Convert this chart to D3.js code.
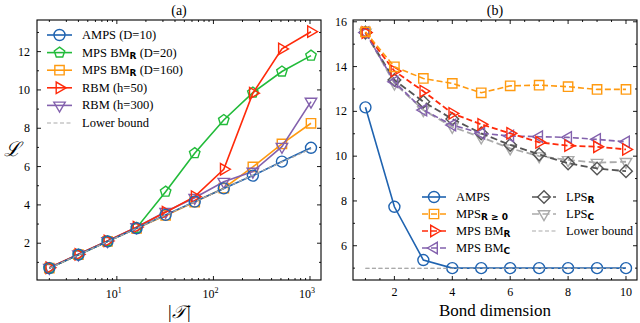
<!DOCTYPE html>
<html>
<head>
<meta charset="utf-8">
<script src="https://cdn.jsdelivr.net/npm/d3@7"></script>
<style>
  body { margin: 0; background: #fff; }
  text { font-family: "Liberation Serif", "DejaVu Serif", serif; }
</style>
</head>
<body>
<div id="chart"></div>
<script>
// ---- data, panel (a) ----
var sizesA = [2, 4, 8, 16, 32, 64, 128, 256, 512, 1024];
var ampsA   = [0.70, 1.40, 2.09, 2.78, 3.48, 4.17, 4.86, 5.53, 6.26, 6.98];
var bmr20A  = [0.70, 1.40, 2.10, 2.80, 4.69, 6.70, 8.43, 9.86, 10.96, 11.79];
var bmr160A = [0.70, 1.40, 2.09, 2.78, 3.45, 4.15, 4.87, 5.98, 7.18, 8.26];
var rbm50A  = [0.72, 1.42, 2.12, 2.84, 3.62, 4.43, 5.86, 9.83, 12.14, 13.04];
var rbm300A = [0.72, 1.42, 2.12, 2.84, 3.64, 4.37, 5.21, 5.74, 7.04, 9.39];
var lowerA  = [0.69, 1.39, 2.08, 2.77, 3.47, 4.16, 4.85, 5.55, 6.24, 6.93];
var xTicksA = [10, 100, 1000];
var yTicksA = [2, 4, 6, 8, 10, 12];

// ---- data, panel (b) ----
var bondB  = [1, 2, 3, 4, 5, 6, 7, 8, 9, 10];
var ampsB  = [12.18, 7.74, 5.36, 5.0, 5.0, 5.0, 5.0, 5.0, 5.0, 5.0];
var mpsPosB = [15.55, 13.99, 13.47, 13.25, 12.83, 13.14, 13.17, 13.10, 12.98, 12.98];
var bmrB   = [15.52, 13.80, 12.90, 11.91, 11.42, 11.02, 10.62, 10.47, 10.42, 10.30];
var bmcB   = [15.52, 13.32, 12.06, 11.39, 11.02, 10.90, 10.87, 10.84, 10.75, 10.64];
var lpsrB  = [15.52, 13.40, 12.43, 11.66, 11.02, 10.50, 10.08, 9.68, 9.45, 9.33];
var lpscB  = [15.52, 13.25, 12.06, 11.31, 10.84, 10.35, 10.00, 9.83, 9.71, 9.75];
var lowerB = [4.99, 4.99, 4.99, 4.99, 4.99, 4.99, 4.99, 4.99, 4.99, 4.99];
var xTicksB = [2, 4, 6, 8, 10];
var yTicksB = [6, 8, 10, 12, 14, 16];

var blue = "#1f63b0", green = "#22bb3a", orange = "#ff9a10", red = "#ff2a0a",
    purple = "#8361ad", dgray = "#555555", lgray = "#aaaaaa";

var svg = d3.select("#chart").append("svg")
    .attr("width", 640).attr("height", 323);

// marker paths
function poly(r, angles) {
  return "M" + angles.map(function(a) {
    var t = a * Math.PI / 180;
    return [r * Math.cos(t), r * Math.sin(t)].join(",");
  }).join("L") + "Z";
}
function markerPath(type, r) {
  if (type === "square") return poly(r * 1.2, [45, 135, 225, 315]);
  if (type === "diamond") return poly(r * 1.15, [0, 90, 180, 270]);
  if (type === "pentagon") return poly(r, [-90, -18, 54, 126, 198]);
  if (type === "right") return poly(r * 1.2, [0, 120, 240]);
  if (type === "left") return poly(r * 1.2, [180, 300, 60]);
  if (type === "down") return poly(r * 1.2, [90, 210, 330]);
  return null;
}
function drawMarker(g, type, x, y, color, r) {
  if (type === "circle") {
    g.append("circle").attr("cx", x).attr("cy", y).attr("r", r)
      .attr("fill", "none").attr("stroke", color).attr("stroke-width", 1.4);
  } else {
    g.append("path").attr("d", markerPath(type, r))
      .attr("transform", "translate(" + x + "," + y + ")")
      .attr("fill", "none").attr("stroke", color).attr("stroke-width", 1.4);
  }
}

function drawSeries(g, xs, ys, x, y, s) {
  var line = d3.line().x(function(d, i) { return x(xs[i]); }).y(function(d) { return y(d); });
  g.append("path").datum(ys).attr("d", line)
    .attr("fill", "none").attr("stroke", s.color)
    .attr("stroke-width", s.width || 1.6)
    .attr("stroke-dasharray", s.dash || null);
  if (s.marker) {
    ys.forEach(function(v, i) { drawMarker(g, s.marker, x(xs[i]), y(v), s.color, s.r || 5.5); });
  }
}

// inward ticks on all four sides
function frame(g, x, y, w, h, xMajor, xMinor, yMajor, yMinor) {
  var tk = g.append("g").attr("stroke", "#000").attr("stroke-width", 0.9);
  xMajor.forEach(function(v) {
    tk.append("line").attr("x1", x(v)).attr("x2", x(v)).attr("y1", h).attr("y2", h - 4);
    tk.append("line").attr("x1", x(v)).attr("x2", x(v)).attr("y1", 0).attr("y2", 4);
  });
  xMinor.forEach(function(v) {
    tk.append("line").attr("x1", x(v)).attr("x2", x(v)).attr("y1", h).attr("y2", h - 2);
    tk.append("line").attr("x1", x(v)).attr("x2", x(v)).attr("y1", 0).attr("y2", 2);
  });
  yMajor.forEach(function(v) {
    tk.append("line").attr("y1", y(v)).attr("y2", y(v)).attr("x1", 0).attr("x2", 4);
    tk.append("line").attr("y1", y(v)).attr("y2", y(v)).attr("x1", w).attr("x2", w - 4);
  });
  yMinor.forEach(function(v) {
    tk.append("line").attr("y1", y(v)).attr("y2", y(v)).attr("x1", 0).attr("x2", 2);
    tk.append("line").attr("y1", y(v)).attr("y2", y(v)).attr("x1", w).attr("x2", w - 2);
  });
  g.append("rect").attr("width", w).attr("height", h)
    .attr("fill", "none").attr("stroke", "#000").attr("stroke-width", 1.1);
}

function legendLabel(t, main, sub, after) {
  t.append("tspan").text(main);
  if (sub) t.append("tspan").attr("baseline-shift", "-25%").attr("font-size", "9px")
    .attr("font-weight", "bold").attr("font-family", "DejaVu Sans, sans-serif").text(sub);
  if (after) t.append("tspan").text(after);
}

// ================= panel (a) =================
var aL = 37, aT = 20, aW = 284, aH = 260;
var xA = d3.scaleLog().domain([1.49, 1300]).range([0, aW]);
var yA = d3.scaleLinear().domain([0.08, 13.65]).range([aH, 0]);
var gA = svg.append("g").attr("transform", "translate(" + aL + "," + aT + ")");

var clipA = svg.append("defs").append("clipPath").attr("id", "clipA");
clipA.append("rect").attr("width", aW).attr("height", aH);
var dataA = gA.append("g").attr("clip-path", "url(#clipA)");

var seriesA = [
  { ys: lowerA, color: lgray, dash: "4,2.5", width: 1.2 },
  { ys: bmr160A, color: orange, marker: "square" },
  { ys: rbm300A, color: purple, marker: "down" },
  { ys: bmr20A, color: green, marker: "pentagon" },
  { ys: rbm50A, color: red, marker: "right" },
  { ys: ampsA, color: blue, marker: "circle" },
  { ys: lowerA, color: lgray, dash: "4,2.5", width: 1.2 }
];
seriesA.forEach(function(s) { drawSeries(dataA, sizesA, s.ys, xA, yA, s); });

var minorXA = [];
[1, 10, 100, 1000].forEach(function(d) {
  for (var k = 2; k <= 9; k++) { var v = d * k; if (v > 1.49 && v < 1300) minorXA.push(v); }
});
frame(gA, xA, yA, aW, aH, xTicksA, minorXA, yTicksA, [1, 3, 5, 7, 9, 11, 13]);

xTicksA.forEach(function(v) {
  var t = gA.append("text").attr("x", xA(v) - 3).attr("y", aH + 18)
    .attr("text-anchor", "middle").attr("font-size", "12px");
  t.append("tspan").text("10");
  t.append("tspan").attr("dy", -5).attr("font-size", "8px").text(Math.round(Math.log10(v)));
});
yTicksA.forEach(function(v) {
  gA.append("text").attr("x", -7).attr("y", yA(v) + 4)
    .attr("text-anchor", "end").attr("font-size", "12px").text(v);
});
gA.append("text").attr("x", aW / 2).attr("y", -5).attr("text-anchor", "middle")
  .attr("font-size", "14px").text("(a)");
gA.append("text").attr("x", aW / 2).attr("y", aH + 38).attr("text-anchor", "middle")
  .attr("font-size", "18px").attr("font-style", "italic").text("|𝒯|");
gA.append("text").attr("x", -25).attr("y", yA(6.9) + 7)
  .attr("text-anchor", "middle").attr("font-size", "20px").attr("font-style", "italic").text("ℒ");

var legA = [
  { color: blue, marker: "circle", main: "AMPS (D=10)" },
  { color: green, marker: "pentagon", main: "MPS BM", sub: "R", after: " (D=20)" },
  { color: orange, marker: "square", main: "MPS BM", sub: "R", after: " (D=160)" },
  { color: red, marker: "right", main: "RBM (h=50)" },
  { color: purple, marker: "down", main: "RBM (h=300)" },
  { color: lgray, dash: "4,2.5", main: "Lower bound" }
];
legA.forEach(function(d, i) {
  var yy = 15 + i * 17.6;
  gA.append("line").attr("x1", 10).attr("x2", 35).attr("y1", yy).attr("y2", yy)
    .attr("stroke", d.color).attr("stroke-width", d.dash ? 1.2 : 1.6)
    .attr("stroke-dasharray", d.dash || null);
  if (d.marker) drawMarker(gA, d.marker, 22.5, yy, d.color, 5.5);
  var t = gA.append("text").attr("x", 45).attr("y", yy + 4).attr("font-size", "12.5px");
  legendLabel(t, d.main, d.sub, d.after);
});

// ================= panel (b) =================
var bL = 353, bT = 20, bW = 284, bH = 260;
var xB = d3.scaleLinear().domain([0.57, 10.38]).range([0, bW]);
var yB = d3.scaleLinear().domain([4.47, 16.08]).range([bH, 0]);
var gB = svg.append("g").attr("transform", "translate(" + bL + "," + bT + ")");
var clipB = svg.select("defs").append("clipPath").attr("id", "clipB");
clipB.append("rect").attr("width", bW).attr("height", bH);
var dataB = gB.append("g").attr("clip-path", "url(#clipB)");

var seriesB = [
  { ys: lowerB, color: lgray, dash: "4,2.5", width: 1.2 },
  { ys: lpscB, color: lgray, marker: "down", dash: "7,3.5", width: 1.8 },
  { ys: lpsrB, color: dgray, marker: "diamond", dash: "7,3.5", width: 1.8 },
  { ys: bmcB, color: purple, marker: "left", dash: "6,3" },
  { ys: bmrB, color: red, marker: "right", dash: "6,3", width: 1.8 },
  { ys: mpsPosB, color: orange, marker: "square", dash: "6,3" },
  { ys: ampsB, color: blue, marker: "circle" }
];
seriesB.forEach(function(s) { drawSeries(dataB, bondB, s.ys, xB, yB, s); });
// lower bound drawn again faintly over the flat AMPS part
drawSeries(dataB, bondB, lowerB, xB, yB, { color: lgray, dash: "4,2.5", width: 1 });

var minorXB = [];
for (var v = 1; v <= 10; v += 0.5) if (xTicksB.indexOf(v) < 0) minorXB.push(v);
var minorYB = [5, 7, 9, 11, 13, 15];
frame(gB, xB, yB, bW, bH, xTicksB, minorXB, yTicksB, minorYB);

xTicksB.forEach(function(v) {
  gB.append("text").attr("x", xB(v)).attr("y", bH + 16)
    .attr("text-anchor", "middle").attr("font-size", "12px").text(v);
});
yTicksB.forEach(function(v) {
  gB.append("text").attr("x", -6).attr("y", yB(v) + 4)
    .attr("text-anchor", "end").attr("font-size", "12px").text(v);
});
gB.append("text").attr("x", bW / 2).attr("y", -5).attr("text-anchor", "middle")
  .attr("font-size", "14px").text("(b)");
gB.append("text").attr("x", bW / 2).attr("y", bH + 36).attr("text-anchor", "middle")
  .attr("font-size", "17px").text("Bond dimension");

var legB = [
  { color: blue, marker: "circle", main: "AMPS", col: 0 },
  { color: orange, marker: "square", dash: "6,3", main: "MPS", sub: "R ≥ 0", col: 0 },
  { color: red, marker: "right", dash: "6,3", main: "MPS BM", sub: "R", col: 0 },
  { color: purple, marker: "left", dash: "6,3", main: "MPS BM", sub: "C", col: 0 },
  { color: dgray, marker: "diamond", dash: "7,3.5", main: "LPS", sub: "R", col: 1 },
  { color: lgray, marker: "down", dash: "7,3.5", main: "LPS", sub: "C", col: 1 },
  { color: lgray, dash: "4,2.5", main: "Lower bound", col: 1, thin: true }
];
var rowB = [0, 0];
legB.forEach(function(d) {
  var x0 = d.col === 0 ? 69 : 179;
  var yy = 177 + rowB[d.col]++ * 17;
  gB.append("line").attr("x1", x0).attr("x2", x0 + 24).attr("y1", yy).attr("y2", yy)
    .attr("stroke", d.color).attr("stroke-width", d.thin ? 1.2 : 1.6)
    .attr("stroke-dasharray", d.dash || null);
  if (d.marker) drawMarker(gB, d.marker, x0 + 12, yy, d.color, 5.5);
  var t = gB.append("text").attr("x", x0 + 34).attr("y", yy + 4).attr("font-size", "12.5px");
  legendLabel(t, d.main, d.sub, d.after);
});
</script>
</body>
</html>
